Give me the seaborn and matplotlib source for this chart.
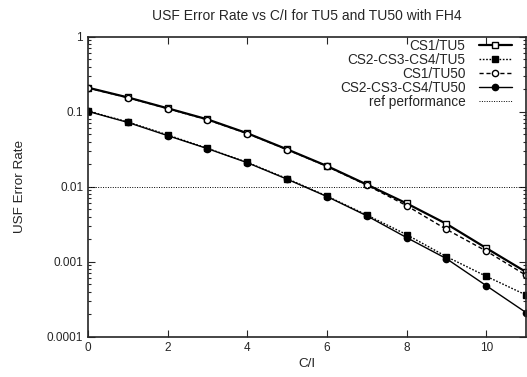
import matplotlib
matplotlib.use("Agg")
import matplotlib.pyplot as plt
import matplotlib.ticker as mticker
import numpy as np
import pandas as pd
import seaborn as sns

# C/I values (dB)
ci = [0, 1, 2, 3, 4, 5, 6, 7, 8, 9, 10, 11]

# USF error rates per coding scheme / channel profile
cs1_tu5 = [0.209, 0.155, 0.111, 0.079, 0.0516, 0.0315, 0.0189, 0.0107, 0.0060, 0.0032, 0.00152, 0.00073]
cs234_tu5 = [0.102, 0.073, 0.049, 0.0325, 0.0211, 0.0128, 0.0075, 0.0042, 0.0023, 0.00117, 0.00064, 0.00036]
cs1_tu50 = [0.207, 0.154, 0.110, 0.078, 0.0512, 0.0312, 0.0187, 0.0105, 0.0056, 0.0027, 0.00139, 0.00066]
cs234_tu50 = [0.101, 0.072, 0.048, 0.0322, 0.0209, 0.0126, 0.0074, 0.0041, 0.0021, 0.0011, 0.00048, 0.00021]
ref_level = 0.01

series_names = ["CS1/TU5", "CS2-CS3-CS4/TU5", "CS1/TU50", "CS2-CS3-CS4/TU50"]
series_values = [cs1_tu5, cs234_tu5, cs1_tu50, cs234_tu50]

sns.set_style("ticks")
plt.rcParams["font.family"] = ["Liberation Sans", "DejaVu Sans"]

fig = plt.figure(figsize=(5.27, 3.77), dpi=100)
ax = fig.add_axes([88 / 527, 1 - 336.7 / 377, (526 - 88) / 527, (336.7 - 36.7) / 377])

styles = {
    "CS1/TU5": dict(marker="s", markerfacecolor="white", linestyle="-", linewidth=1.6),
    "CS2-CS3-CS4/TU5": dict(marker="s", markerfacecolor="black", linestyle=(0, (1.2, 1.2)), linewidth=1.0),
    "CS1/TU50": dict(marker="o", markerfacecolor="white", linestyle=(0, (3, 2)), linewidth=1.0),
    "CS2-CS3-CS4/TU50": dict(marker="o", markerfacecolor="black", linestyle="-", linewidth=1.0),
}

for name, vals in zip(series_names, series_values):
    df = pd.DataFrame({"C/I": ci, "rate": vals})
    st = styles[name]
    sns.lineplot(data=df, x="C/I", y="rate", ax=ax, color="black",
                 marker=st["marker"], markerfacecolor=st["markerfacecolor"],
                 markeredgecolor="black", markersize=4.5, markeredgewidth=1.0,
                 linestyle=st["linestyle"], linewidth=st["linewidth"],
                 label=name)

ax.axhline(ref_level, color="black", linestyle=(0, (1, 1.5)), linewidth=0.7,
           label="ref performance")

ax.set_yscale("log")
ax.set_xlim(0, 11)
ax.set_ylim(0.0001, 1)
ax.set_xticks([0, 2, 4, 6, 8, 10])
ax.set_yticks([0.0001, 0.001, 0.01, 0.1, 1])
ax.yaxis.set_major_formatter(mticker.FuncFormatter(lambda v, p: f"{v:g}" if v >= 0.001 else "0.0001"))
ax.yaxis.set_minor_locator(mticker.LogLocator(base=10, subs=np.arange(2, 10)))
ax.yaxis.set_minor_formatter(mticker.NullFormatter())

ax.tick_params(axis="both", which="both", direction="in", top=True, right=True,
               labelsize=8.5, width=0.8)
ax.tick_params(axis="both", which="major", length=5)
ax.tick_params(axis="both", which="minor", length=2.5)
for sp in ax.spines.values():
    sp.set_linewidth(1.2)
    sp.set_visible(True)

ax.set_xlabel("C/I", fontsize=9.7, labelpad=3)
ax.set_ylabel("USF Error Rate", fontsize=9.7, labelpad=15)
ax.set_title("USF Error Rate vs C/I for TU5 and TU50 with FH4", fontsize=10, pad=12)

leg = ax.legend(loc="upper right", frameon=False, markerfirst=False, fontsize=9.8,
                handlelength=2.4, handletextpad=1.0, labelspacing=0.0, borderaxespad=0.0,
                bbox_to_anchor=(0.98, 1.012))
for t in leg.get_texts():
    t.set_ha("right")

fig.savefig("out.png", dpi=100)
